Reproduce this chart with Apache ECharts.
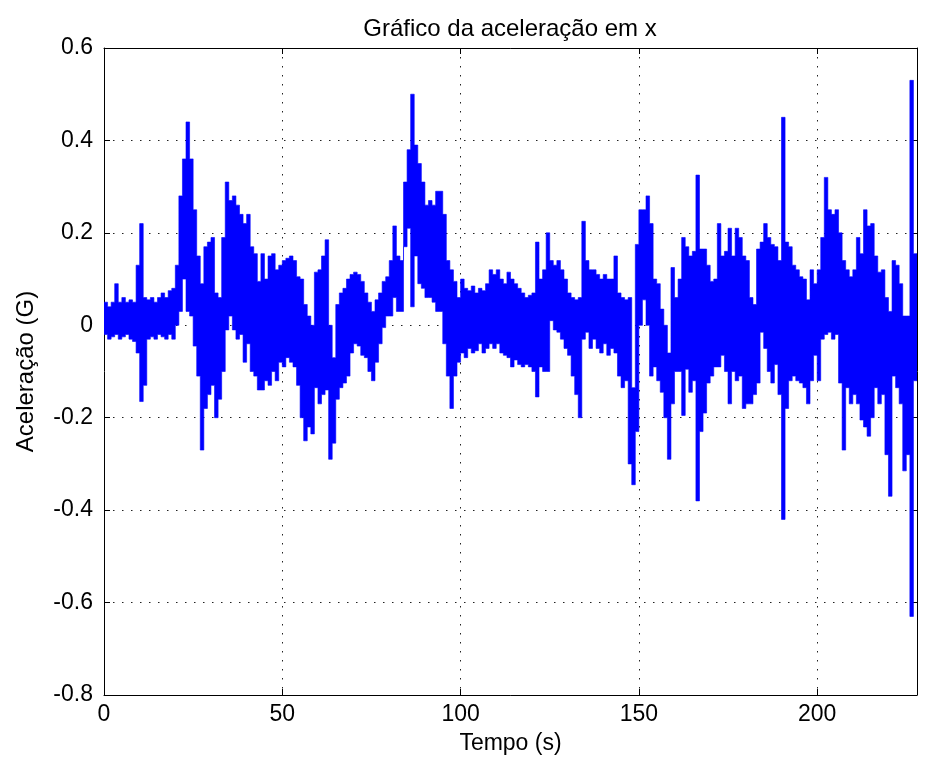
<!DOCTYPE html>
<html>
<head>
<meta charset="utf-8">
<script src="https://cdn.jsdelivr.net/npm/echarts@6/dist/echarts.min.js"></script>
<style>
  html, body { margin: 0; padding: 0; background: #fff; }
  #chart { width: 925px; height: 765px; }
</style>
</head>
<body>
<div id="chart"></div>
<script>
// envelope: one max / min pair per second (t = 0..227 s)
const acelMax = [
  0.05, 0.04, 0.05, 0.09, 0.05, 0.06, 0.05, 0.055, 0.05, 0.13,
  0.22, 0.06, 0.055, 0.06, 0.05, 0.06, 0.07, 0.06, 0.075, 0.08,
  0.13, 0.28, 0.36, 0.44, 0.36, 0.25, 0.15, 0.09, 0.17, 0.18,
  0.19, 0.07, 0.06, 0.19, 0.31, 0.27, 0.28, 0.26, 0.24, 0.22,
  0.24, 0.17, 0.155, 0.095, 0.155, 0.1, 0.15, 0.155, 0.12, 0.13,
  0.14, 0.145, 0.15, 0.14, 0.105, 0.1, 0.045, 0.02, 0.0, 0.115,
  0.12, 0.15, 0.185, 0.0, -0.07, 0.045, 0.07, 0.08, 0.1, 0.11,
  0.115, 0.11, 0.095, 0.07, 0.05, 0.03, 0.055, 0.07, 0.095, 0.105,
  0.14, 0.215, 0.15, 0.14, 0.31, 0.38, 0.5, 0.39, 0.35, 0.31,
  0.26, 0.27, 0.26, 0.29, 0.29, 0.24, 0.14, 0.12, 0.095, 0.06,
  0.1, 0.08, 0.075, 0.085, 0.07, 0.08, 0.075, 0.09, 0.12, 0.11,
  0.12, 0.1, 0.09, 0.115, 0.1, 0.09, 0.08, 0.07, 0.06, 0.065,
  0.07, 0.18, 0.1, 0.12, 0.2, 0.14, 0.13, 0.14, 0.12, 0.1,
  0.07, 0.06, 0.055, 0.06, 0.225, 0.14, 0.12, 0.12, 0.11, 0.1,
  0.11, 0.1, 0.1, 0.15, 0.07, 0.06, 0.055, 0.06, -0.135, 0.175,
  0.25, 0.25, 0.28, 0.22, 0.1, 0.09, 0.035, 0.0, -0.06, 0.125,
  0.06, 0.1, 0.19, 0.17, 0.15, 0.16, 0.325, 0.165, 0.165, 0.13,
  0.095, 0.1, 0.22, 0.15, 0.16, 0.21, 0.15, 0.21, 0.19, 0.15,
  0.14, 0.06, 0.045, 0.165, 0.18, 0.22, 0.19, 0.175, 0.17, 0.14,
  0.45, 0.18, 0.17, 0.13, 0.12, 0.105, 0.1, 0.055, 0.12, 0.09,
  0.12, 0.19, 0.32, 0.25, 0.24, 0.25, 0.2, 0.14, 0.12, 0.105,
  0.12, 0.19, 0.155, 0.25, 0.215, 0.22, 0.15, 0.115, 0.12, 0.06,
  0.03, 0.14, 0.13, 0.09, 0.02, 0.02, 0.53, 0.155
];
const acelMin = [
  -0.02, -0.03, -0.025, -0.02, -0.03, -0.025, -0.02, -0.03, -0.035, -0.06,
  -0.165, -0.13, -0.03, -0.025, -0.03, -0.02, -0.025, -0.03, -0.02, -0.03,
  0.0, 0.03, 0.1, 0.03, 0.02, -0.045, -0.11, -0.27, -0.18, -0.15,
  -0.13, -0.2, -0.16, -0.1, -0.01, 0.02, -0.01, -0.03, -0.02, -0.08,
  -0.04, -0.1, -0.11, -0.14, -0.14, -0.12, -0.13, -0.1, -0.12, -0.08,
  -0.09, -0.07, -0.08, -0.09, -0.13, -0.2, -0.25, -0.22, -0.235, -0.135,
  -0.17, -0.15, -0.14, -0.29, -0.255, -0.16, -0.135, -0.125, -0.11, -0.06,
  -0.04, -0.045, -0.065, -0.07, -0.1, -0.12, -0.08, -0.04, -0.005, 0.02,
  0.02, 0.06, 0.03, 0.03, 0.17, 0.21, 0.04, 0.15, 0.09, 0.08,
  0.06, 0.06, 0.05, 0.03, 0.03, -0.04, -0.11, -0.18, -0.11, -0.08,
  -0.06, -0.07, -0.05, -0.06, -0.055, -0.04, -0.06, -0.05, -0.04, -0.05,
  -0.04, -0.06, -0.065, -0.07, -0.09, -0.075, -0.085, -0.09, -0.085, -0.09,
  -0.1, -0.155, -0.09, -0.1, -0.1, 0.01, -0.01, -0.015, -0.03, -0.05,
  -0.065, -0.11, -0.15, -0.2, -0.03, -0.015, -0.05, -0.03, -0.05, -0.06,
  -0.04, -0.065, -0.05, -0.06, -0.11, -0.135, -0.12, -0.3, -0.345, -0.23,
  0.0, 0.055, 0.0, -0.11, -0.09, -0.12, -0.145, -0.2, -0.29, -0.17,
  -0.1, -0.1, -0.195, -0.095, -0.145, -0.12, -0.38, -0.23, -0.19, -0.125,
  -0.11, -0.09, -0.09, -0.065, -0.1, -0.17, -0.1, -0.12, -0.11, -0.18,
  -0.17, -0.17, -0.15, -0.125, -0.015, -0.05, -0.1, -0.125, -0.085, -0.15,
  -0.42, -0.18, -0.12, -0.11, -0.12, -0.125, -0.135, -0.17, -0.12, -0.065,
  -0.12, -0.03, -0.02, -0.015, -0.03, -0.02, -0.125, -0.27, -0.135, -0.17,
  -0.15, -0.17, -0.205, -0.22, -0.24, -0.2, -0.135, -0.17, -0.15, -0.28,
  -0.37, -0.11, -0.135, -0.17, -0.315, -0.28, -0.63, -0.12
];
const xTicks = [0, 50, 100, 150, 200];
const yTicks = [-0.8, -0.6, -0.4, -0.2, 0, 0.2, 0.4, 0.6];

const fonte = 'Liberation Sans, Arial, sans-serif';
const grade = { show: true, lineStyle: { color: '#222', width: 1, type: [1.5, 7.5] } };
const linha = { show: true, onZero: false, lineStyle: { color: '#000', width: 1 } };
const tick = { show: true, inside: true, length: 6, lineStyle: { color: '#000' } };

// the dense signal looks like a solid band: one step polygon, max on top, min below
function desenhaFaixa(params, api) {
  if (params.dataIndex !== 0) return null;
  const topo = [];
  const base = [];
  acelMax.forEach((v, i) => {
    topo.push(api.coord([i, v]), api.coord([i + 1, v]));
    base.push(api.coord([i, acelMin[i]]), api.coord([i + 1, acelMin[i]]));
  });
  return {
    type: 'polygon',
    shape: { points: topo.concat(base.reverse()) },
    style: { fill: '#0000ff', stroke: '#0000ff', lineWidth: 0.6 }
  };
}

const myChart = echarts.init(document.getElementById('chart'));
const option = {
  backgroundColor: '#fff',
  animation: false,
  title: {
    text: 'Gráfico da aceleração em x',
    left: 505,
    top: 12,
    textAlign: 'center',
    textStyle: { fontFamily: fonte, fontSize: 24, fontWeight: 'normal', color: '#000' }
  },
  grid: { left: 104, right: 8, top: 48, bottom: 70 },
  xAxis: [{
    type: 'value',
    min: 0,
    max: 228,
    interval: 50,
    name: 'Tempo (s)',
    nameLocation: 'middle',
    nameGap: 37,
    nameTextStyle: { fontFamily: fonte, fontSize: 23, color: '#000' },
    axisLine: linha,
    axisTick: tick,
    splitLine: grade,
    axisLabel: {
      margin: 8,
      fontFamily: fonte,
      fontSize: 23,
      color: '#000',
      formatter: v => (xTicks.includes(v) ? String(v) : '')
    }
  }, {
    type: 'value',
    position: 'top',
    min: 0,
    max: 228,
    interval: 50,
    axisLine: linha,
    axisTick: tick,
    axisLabel: { show: false },
    splitLine: { show: false }
  }],
  yAxis: [{
    type: 'value',
    min: -0.8,
    max: 0.6,
    interval: 0.2,
    name: 'Aceleração (G)',
    nameLocation: 'middle',
    nameGap: 66,
    nameTextStyle: { fontFamily: fonte, fontSize: 24, color: '#000' },
    axisLine: linha,
    axisTick: tick,
    splitLine: grade,
    axisLabel: {
      margin: 11,
      fontFamily: fonte,
      fontSize: 23,
      color: '#000',
      formatter: v => {
        const r = parseFloat(v.toFixed(1));
        return yTicks.includes(r) ? String(r) : '';
      }
    }
  }, {
    type: 'value',
    position: 'right',
    min: -0.8,
    max: 0.6,
    interval: 0.2,
    axisLine: linha,
    axisTick: tick,
    axisLabel: { show: false },
    splitLine: { show: false }
  }],
  series: [{
    type: 'custom',
    renderItem: desenhaFaixa,
    data: acelMax.map((v, i) => [i, acelMin[i], v]),
    encode: { x: 0, y: [1, 2] },
    clip: true,
    z: 3
  }]
};
myChart.setOption(option, true);
</script>
</body>
</html>
